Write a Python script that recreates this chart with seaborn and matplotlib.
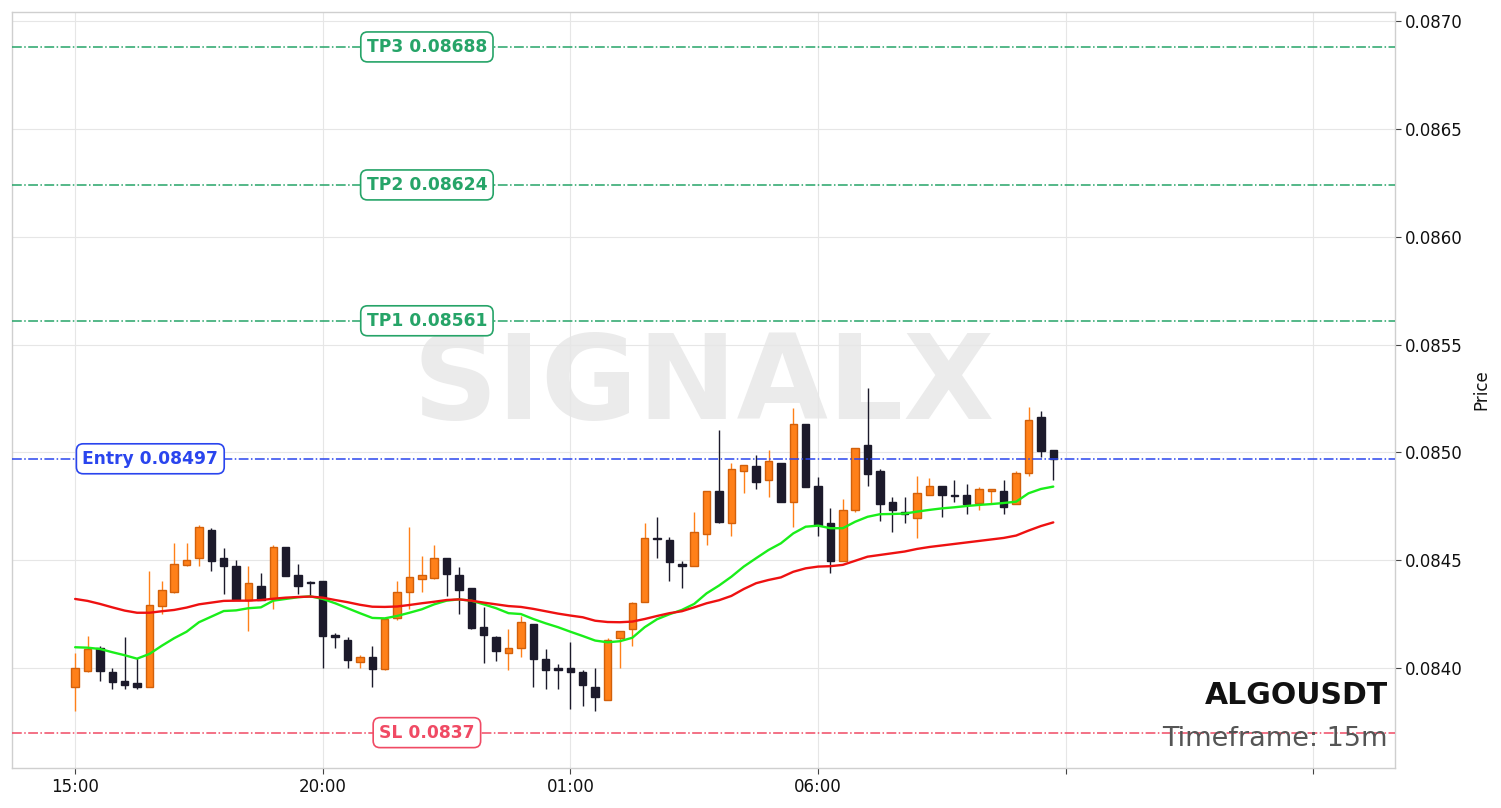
import numpy as np
import pandas as pd
import matplotlib
matplotlib.use("Agg")
import matplotlib.pyplot as plt
import seaborn as sns
from matplotlib.transforms import blended_transform_factory

# ---------------- data ----------------
symbol = "ALGOUSDT"
timeframe = "15m"
start_time = "2024-01-01 15:00"

opens = [0.083911, 0.083986, 0.084091, 0.083980, 0.083940, 0.083930, 0.083911, 0.084289, 0.084351, 0.084479,
         0.084509, 0.084640, 0.084509, 0.084473, 0.084315, 0.084380, 0.084318, 0.084560, 0.084430, 0.084399,
         0.084403, 0.084153, 0.084130, 0.084029, 0.084051, 0.083995, 0.084230, 0.084351, 0.084411, 0.084419,
         0.084509, 0.084430, 0.084369, 0.084189, 0.084144, 0.084068, 0.084091, 0.084204, 0.084040, 0.083999,
         0.083999, 0.083981, 0.083912, 0.083850, 0.084140, 0.084179, 0.084307, 0.084604, 0.084593, 0.084484,
         0.084471, 0.084620, 0.084821, 0.084671, 0.084913, 0.084938, 0.084870, 0.084949, 0.084768, 0.085131,
         0.084842, 0.084671, 0.084496, 0.084731, 0.085032, 0.084913, 0.084768, 0.084722, 0.084697, 0.084801,
         0.084844, 0.084803, 0.084802, 0.084766, 0.084819, 0.084821, 0.084759, 0.084903, 0.085164, 0.085011]

highs = [0.084068, 0.084150, 0.084102, 0.083999, 0.084144, 0.084045, 0.084448, 0.084402, 0.084578, 0.084578,
         0.084663, 0.084650, 0.084558, 0.084501, 0.084473, 0.084439, 0.084570, 0.084560, 0.084481, 0.084403,
         0.084403, 0.084161, 0.084142, 0.084060, 0.084102, 0.084227, 0.084403, 0.084652, 0.084521, 0.084570,
         0.084509, 0.084470, 0.084369, 0.084281, 0.084148, 0.084179, 0.084242, 0.084204, 0.084088, 0.084019,
         0.084119, 0.083991, 0.083999, 0.084140, 0.084172, 0.084307, 0.084671, 0.084699, 0.084609, 0.084497,
         0.084722, 0.084821, 0.085103, 0.084949, 0.084939, 0.084987, 0.085011, 0.084949, 0.085207, 0.085131,
         0.084887, 0.084740, 0.084783, 0.085019, 0.085300, 0.084921, 0.084791, 0.084791, 0.084890, 0.084879,
         0.084844, 0.084872, 0.084852, 0.084841, 0.084830, 0.084872, 0.084913, 0.085209, 0.085191, 0.085011]

lows = [0.083802, 0.083980, 0.083940, 0.083901, 0.083901, 0.083901, 0.083911, 0.084249, 0.084346, 0.084473,
        0.084473, 0.084450, 0.084342, 0.084315, 0.084172, 0.084315, 0.084274, 0.084428, 0.084342, 0.084331,
        0.083999, 0.084091, 0.083999, 0.083999, 0.083912, 0.083991, 0.084223, 0.084274, 0.084351, 0.084411,
        0.084335, 0.084250, 0.084181, 0.084022, 0.084032, 0.083991, 0.084050, 0.083911, 0.083903, 0.083903,
        0.083810, 0.083824, 0.083801, 0.083850, 0.084001, 0.084102, 0.084307, 0.084509, 0.084403, 0.084369,
        0.084471, 0.084570, 0.084671, 0.084612, 0.084810, 0.084830, 0.084791, 0.084768, 0.084655, 0.084841,
        0.084613, 0.084442, 0.084496, 0.084722, 0.084845, 0.084682, 0.084632, 0.084672, 0.084604, 0.084801,
        0.084699, 0.084768, 0.084713, 0.084733, 0.084764, 0.084713, 0.084759, 0.084890, 0.084980, 0.084872]

closes = [0.083999, 0.084088, 0.083987, 0.083936, 0.083920, 0.083911, 0.084291, 0.084362, 0.084481, 0.084499,
          0.084652, 0.084497, 0.084471, 0.084315, 0.084393, 0.084315, 0.084560, 0.084428, 0.084379, 0.084394,
          0.084150, 0.084142, 0.084038, 0.084050, 0.083995, 0.084227, 0.084351, 0.084420, 0.084430, 0.084509,
          0.084437, 0.084360, 0.084187, 0.084152, 0.084080, 0.084091, 0.084212, 0.084040, 0.083989, 0.083989,
          0.083980, 0.083920, 0.083867, 0.084130, 0.084172, 0.084300, 0.084601, 0.084598, 0.084490, 0.084471,
          0.084629, 0.084821, 0.084678, 0.084921, 0.084939, 0.084861, 0.084960, 0.084768, 0.085130, 0.084841,
          0.084663, 0.084496, 0.084731, 0.085019, 0.084901, 0.084759, 0.084733, 0.084714, 0.084810, 0.084844,
          0.084801, 0.084799, 0.084759, 0.084830, 0.084830, 0.084748, 0.084905, 0.085150, 0.085006, 0.084969]

ma_fast = [0.084096, 0.084094, 0.084088, 0.084073, 0.084059, 0.084043, 0.084065, 0.084103, 0.084138, 0.084168,
           0.084212, 0.084238, 0.084264, 0.084267, 0.084277, 0.084281, 0.084312, 0.084320, 0.084328, 0.084332,
           0.084320, 0.084300, 0.084277, 0.084254, 0.084232, 0.084230, 0.084241, 0.084256, 0.084272, 0.084295,
           0.084312, 0.084318, 0.084312, 0.084295, 0.084277, 0.084254, 0.084250, 0.084227, 0.084207, 0.084189,
           0.084168, 0.084148, 0.084127, 0.084119, 0.084124, 0.084140, 0.084189, 0.084226, 0.084249, 0.084269,
           0.084297, 0.084346, 0.084382, 0.084423, 0.084470, 0.084509, 0.084547, 0.084578, 0.084624, 0.084655,
           0.084660, 0.084648, 0.084648, 0.084678, 0.084701, 0.084713, 0.084714, 0.084716, 0.084725, 0.084733,
           0.084740, 0.084745, 0.084751, 0.084756, 0.084760, 0.084765, 0.084771, 0.084810, 0.084830, 0.084841]

ma_slow = [0.084320, 0.084311, 0.084297, 0.084281, 0.084266, 0.084256, 0.084256, 0.084263, 0.084269, 0.084280,
           0.084295, 0.084303, 0.084311, 0.084312, 0.084312, 0.084315, 0.084321, 0.084326, 0.084329, 0.084331,
           0.084326, 0.084315, 0.084305, 0.084293, 0.084284, 0.084283, 0.084285, 0.084292, 0.084300, 0.084307,
           0.084315, 0.084318, 0.084312, 0.084303, 0.084295, 0.084287, 0.084283, 0.084274, 0.084263, 0.084252,
           0.084243, 0.084235, 0.084219, 0.084213, 0.084212, 0.084215, 0.084227, 0.084241, 0.084254, 0.084263,
           0.084281, 0.084300, 0.084314, 0.084334, 0.084366, 0.084393, 0.084408, 0.084420, 0.084446, 0.084462,
           0.084470, 0.084472, 0.084478, 0.084497, 0.084516, 0.084524, 0.084532, 0.084540, 0.084552, 0.084561,
           0.084568, 0.084575, 0.084582, 0.084589, 0.084596, 0.084603, 0.084614, 0.084637, 0.084658, 0.084675]

level_names = ["TP3", "TP2", "TP1", "Entry", "SL"]
level_values = [0.08688, 0.08624, 0.08561, 0.08497, 0.0837]
level_labels = ["TP3 0.08688", "TP2 0.08624", "TP1 0.08561", "Entry 0.08497", "SL 0.0837"]

y_ticks = [0.0840, 0.0845, 0.0850, 0.0855, 0.0860, 0.0865, 0.0870]
x_tick_index = [0, 20, 40, 60, 80, 100]

# ---------------- styling ----------------
sns.set_theme(style="whitegrid")
plt.rcParams['font.family'] = ['DejaVu Sans']

UP = "#ff8019"
UP_EDGE = "#d2600a"
DOWN = "#1c1a2b"
TP_C = "#26a468"
ENTRY_C = "#2a45ee"
SL_C = "#f04a64"

fig = plt.figure(figsize=(15.01, 8.08), dpi=100)
fig.patch.set_facecolor("white")
ax = fig.add_axes([12 / 1501, 40 / 808, 1383 / 1501, 756 / 808])
ax.set_facecolor("white")

df = pd.DataFrame({
    "time": pd.date_range(start_time, periods=len(opens), freq="15min"),
    "open": opens, "high": highs, "low": lows, "close": closes,
    "ma_fast": ma_fast, "ma_slow": ma_slow,
})
df["idx"] = np.arange(len(df))
up = df["close"] >= df["open"]

# watermark
ax.text(0.5, 0.505, "SIGNALX", transform=ax.transAxes, ha="center", va="center",
        fontsize=85, fontweight="bold", color="#ebebeb", zorder=0.5)

# candles
body_w = 0.6
min_h = 0.000004
for is_up, face, edge in [(True, UP, UP_EDGE), (False, DOWN, DOWN)]:
    sub = df[up == is_up]
    ax.vlines(sub["idx"], sub["low"], sub["high"], color=(UP if is_up else DOWN), lw=1.0, zorder=2)
    diff = (sub["close"] - sub["open"]).abs()
    bottoms = np.minimum(sub["open"], sub["close"]) - np.where(diff < min_h, min_h / 2, 0)
    heights = np.maximum(diff, min_h)
    ax.bar(sub["idx"], heights, bottom=bottoms, width=body_w, color=face,
           edgecolor=edge, linewidth=1.0, zorder=2.5)

# moving averages
sns.lineplot(data=df, x="idx", y="ma_fast", color="#1aee1a", lw=1.7, ax=ax, zorder=3)
sns.lineplot(data=df, x="idx", y="ma_slow", color="#ee1111", lw=1.7, ax=ax, zorder=3)

# levels
trans = blended_transform_factory(ax.transAxes, ax.transData)
level_colors = [TP_C, TP_C, TP_C, ENTRY_C, SL_C]
label_x = [0.30, 0.30, 0.30, 0.10, 0.30]
for val, lab, col, lx in zip(level_values, level_labels, level_colors, label_x):
    ax.axhline(val, color=col, ls="-.", lw=1.1, zorder=3.5)
    ax.text(lx, val, lab, transform=trans, ha="center", va="center", fontsize=12.3,
            fontweight="bold", color=col, zorder=6,
            bbox=dict(boxstyle="round,pad=0.35,rounding_size=0.4", fc="white", ec=col, lw=1.2))

# symbol / timeframe
ax.text(0.995, 0.085, symbol, transform=ax.transAxes, ha="right", va="baseline",
        fontsize=21.5, fontweight="bold", color="#111111", zorder=6)
ax.text(0.995, 0.029, f"Timeframe: {timeframe}", transform=ax.transAxes, ha="right", va="baseline",
        fontsize=19.5, color="#555555", zorder=6)

# axes
ax.set_xlim(-5.1, 106.6)
ax.set_ylim(0.083536, 0.087042)
ax.set_yticks(y_ticks)
ax.set_yticklabels([f"{v:.4f}" for v in y_ticks])
ax.yaxis.tick_right()
ax.yaxis.set_label_position("right")
ax.set_ylabel("Price", fontsize=12, color="#111111", labelpad=7)
ax.set_xlabel("")
ax.set_xticks(x_tick_index)
ax.set_xticklabels([df["time"][i].strftime("%H:%M") if i < len(df) else "" for i in x_tick_index])
ax.tick_params(axis="both", which="both", direction="out", length=4, width=0.8,
               color="#444444", labelsize=12, labelcolor="#111111", pad=3)
ax.tick_params(axis="y", left=False, right=True, labelleft=False, labelright=True)
ax.tick_params(axis="x", bottom=True)
ax.grid(True, color="#e6e6e6", lw=0.8)
ax.set_axisbelow(True)
for s in ax.spines.values():
    s.set_color("#cfcfcf")
    s.set_linewidth(1.0)

fig.savefig("out.png", dpi=100)
